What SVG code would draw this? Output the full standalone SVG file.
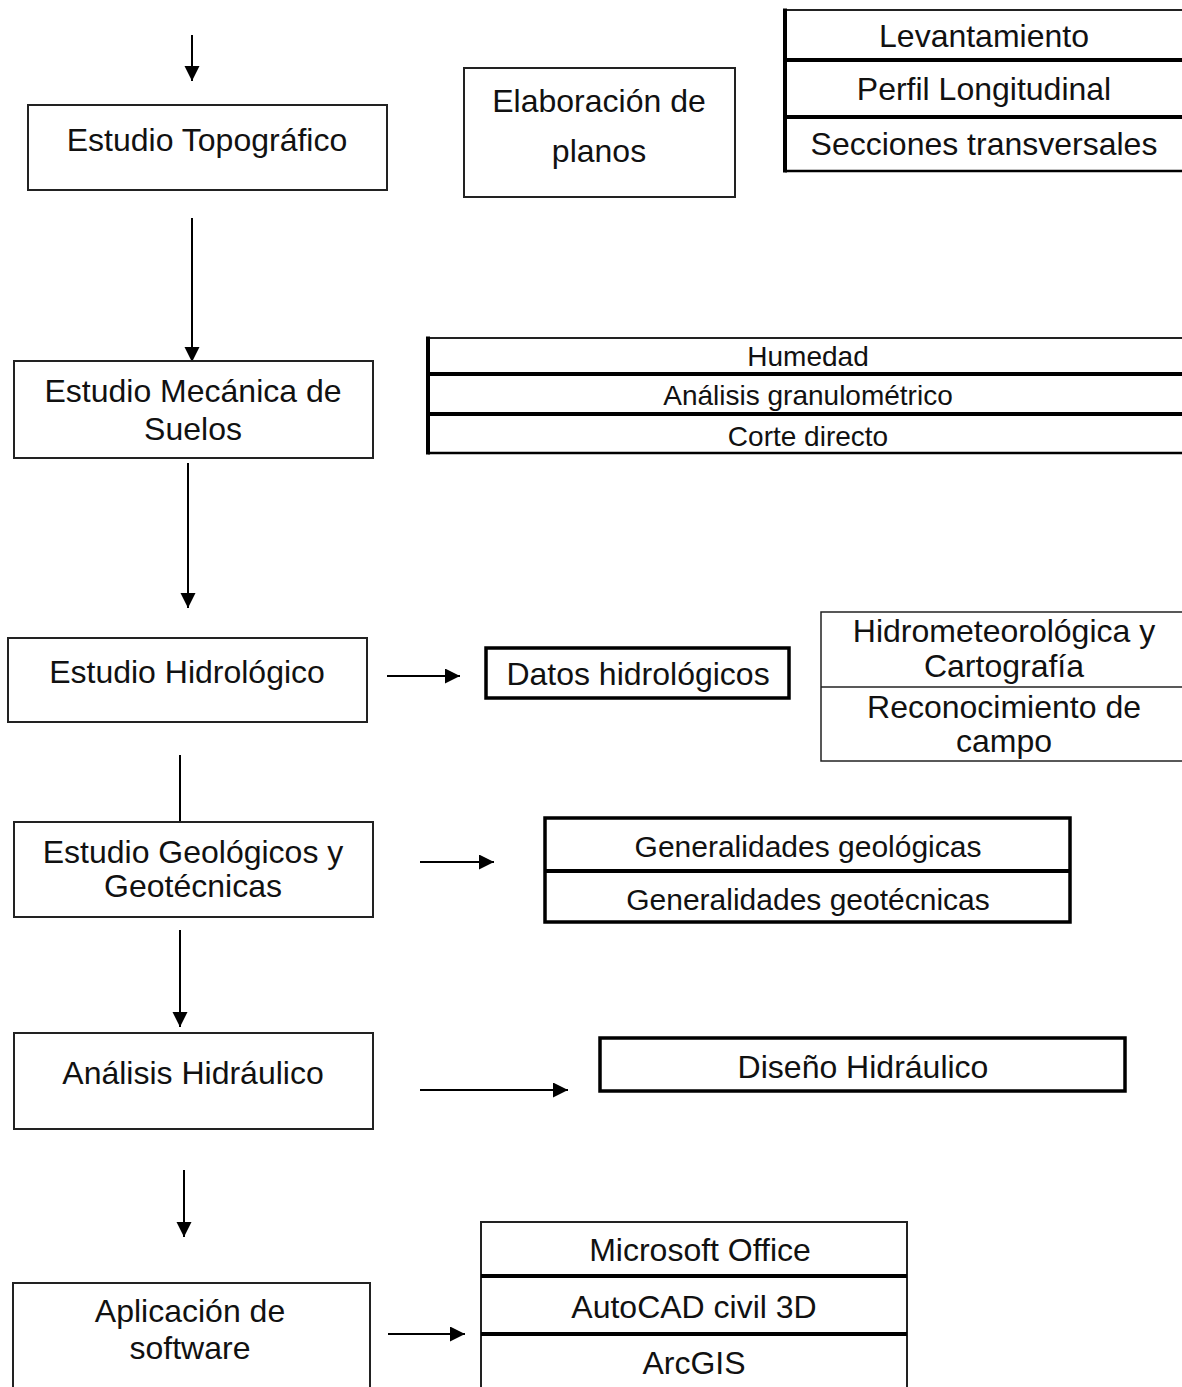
<svg xmlns="http://www.w3.org/2000/svg" width="1182" height="1387" viewBox="0 0 1182 1387">
<defs>
<style>
text{font-family:"Liberation Sans",Arial,sans-serif;font-size:32px;fill:#111;text-anchor:middle}
.sm{font-size:28px}
.md{font-size:30px}
.box{fill:#fff;stroke:#222;stroke-width:2}
.thick{fill:#fff;stroke:#000;stroke-width:3.5}
.thin{fill:#fff;stroke:#222;stroke-width:1.5}
.div{stroke:#000;stroke-width:4}
.edge{stroke:#000;stroke-width:2;fill:none}
</style>
<marker id="ah" markerWidth="18" markerHeight="18" refX="15" refY="7.5" orient="auto" markerUnits="userSpaceOnUse">
<path d="M0,0 L15,7.5 L0,15 z" fill="#000"/>
</marker>
</defs>
<rect width="1182" height="1387" fill="#fff"/>

<g id="connectors">
<line class="edge" x1="192" y1="35" x2="192" y2="81" marker-end="url(#ah)"/>
<line class="edge" x1="192" y1="218" x2="192" y2="362" marker-end="url(#ah)"/>
<line class="edge" x1="188" y1="463" x2="188" y2="608" marker-end="url(#ah)"/>
<line class="edge" x1="180" y1="755" x2="180" y2="822"/>
<line class="edge" x1="180" y1="930" x2="180" y2="1027" marker-end="url(#ah)"/>
<line class="edge" x1="184" y1="1170" x2="184" y2="1237" marker-end="url(#ah)"/>
<line class="edge" x1="387" y1="676" x2="460" y2="676" marker-end="url(#ah)"/>
<line class="edge" x1="420" y1="862" x2="494" y2="862" marker-end="url(#ah)"/>
<line class="edge" x1="420" y1="1090" x2="568" y2="1090" marker-end="url(#ah)"/>
<line class="edge" x1="388" y1="1334" x2="465" y2="1334" marker-end="url(#ah)"/>
</g>

<g id="n-topografico">
<rect class="box" x="28" y="105" width="359" height="85"/>
<text x="207" y="151">Estudio Topográfico</text>
</g>

<g id="n-planos">
<rect class="box" x="464" y="68" width="271" height="129"/>
<text x="599" y="112">Elaboración de</text>
<text x="599" y="162">planos</text>
</g>

<g id="n-topo-table">
<rect class="box" x="785" y="10" width="410" height="161"/>
<line class="div" x1="785" y1="8.5" x2="785" y2="172.5"/>
<line class="div" x1="785" y1="60" x2="1190" y2="60"/>
<line class="div" x1="785" y1="117" x2="1190" y2="117"/>
<line x1="785" y1="171" x2="1190" y2="171" stroke="#000" stroke-width="2.5"/>
<text x="984" y="47">Levantamiento</text>
<text x="984" y="100">Perfil Longitudinal</text>
<text x="984" y="155">Secciones transversales</text>
</g>

<g id="n-mecanica">
<rect class="box" x="14" y="361" width="359" height="97"/>
<text x="193" y="402">Estudio Mecánica de</text>
<text x="193" y="440">Suelos</text>
</g>

<g id="n-suelos-table">
<rect class="box" x="428" y="338" width="770" height="115"/>
<line class="div" x1="428" y1="336.5" x2="428" y2="454.5"/>
<line class="div" x1="428" y1="374" x2="1190" y2="374"/>
<line class="div" x1="428" y1="414" x2="1190" y2="414"/>
<line x1="428" y1="453" x2="1190" y2="453" stroke="#000" stroke-width="2.5"/>
<text class="sm" x="808" y="366">Humedad</text>
<text class="sm" x="808" y="405">Análisis granulométrico</text>
<text class="sm" x="808" y="446">Corte directo</text>
</g>

<g id="n-hidrologico">
<rect class="box" x="8" y="638" width="359" height="84"/>
<text x="187" y="683">Estudio Hidrológico</text>
</g>

<g id="n-datos">
<rect class="thick" x="486" y="648" width="303" height="50"/>
<text x="638" y="685">Datos hidrológicos</text>
</g>

<g id="n-hidro-table">
<rect class="thin" x="821" y="612" width="380" height="149"/>
<line x1="821" y1="687" x2="1190" y2="687" stroke="#222" stroke-width="1.5"/>
<text x="1004" y="642">Hidrometeorológica y</text>
<text x="1004" y="677">Cartografía</text>
<text x="1004" y="718">Reconocimiento de</text>
<text x="1004" y="752">campo</text>
</g>

<g id="n-geologicos">
<rect class="box" x="14" y="822" width="359" height="95"/>
<text x="193" y="863">Estudio Geológicos y</text>
<text x="193" y="897">Geotécnicas</text>
</g>

<g id="n-generalidades">
<rect class="thick" x="545" y="818" width="525" height="104"/>
<line class="div" x1="545" y1="871" x2="1070" y2="871"/>
<text class="md" x="808" y="857">Generalidades geológicas</text>
<text class="md" x="808" y="910">Generalidades geotécnicas</text>
</g>

<g id="n-analisis">
<rect class="box" x="14" y="1033" width="359" height="96"/>
<text x="193" y="1084">Análisis Hidráulico</text>
</g>

<g id="n-diseno">
<rect class="thick" x="600" y="1038" width="525" height="53"/>
<text x="863" y="1078">Diseño Hidráulico</text>
</g>

<g id="n-software">
<rect class="box" x="13" y="1283" width="357" height="120"/>
<text x="190" y="1322">Aplicación de</text>
<text x="190" y="1359">software</text>
</g>

<g id="n-software-table">
<rect class="box" x="481" y="1222" width="426" height="180"/>
<line class="div" x1="481" y1="1276" x2="907" y2="1276"/>
<line class="div" x1="481" y1="1334" x2="907" y2="1334"/>
<text x="700" y="1261">Microsoft Office</text>
<text x="694" y="1318">AutoCAD civil 3D</text>
<text x="694" y="1374">ArcGIS</text>
</g>
</svg>
